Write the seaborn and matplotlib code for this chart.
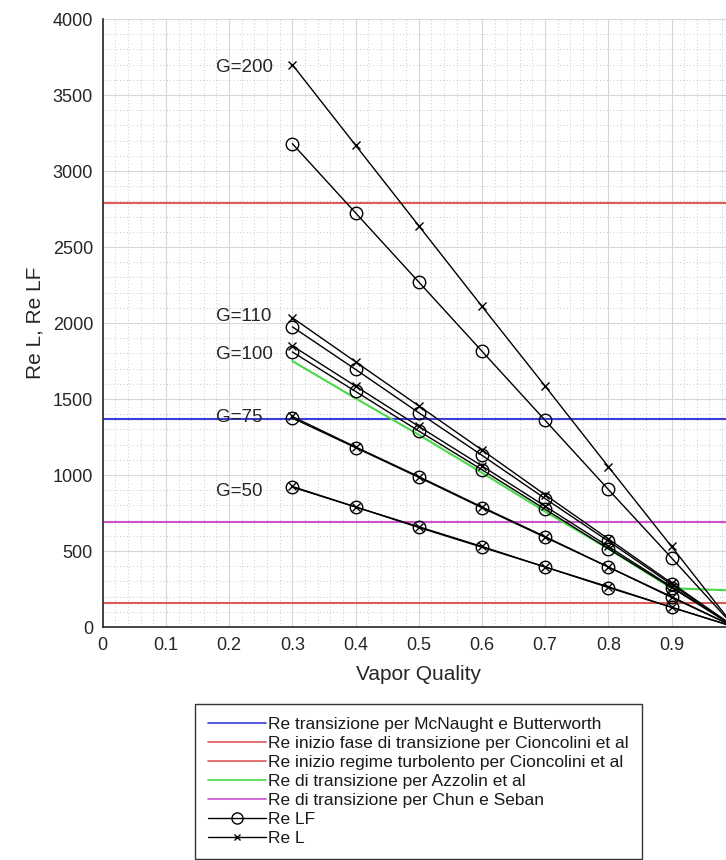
import numpy as np
import pandas as pd
import matplotlib
matplotlib.use("Agg")
import matplotlib.pyplot as plt
from matplotlib.lines import Line2D
from matplotlib.ticker import MultipleLocator
import seaborn as sns

# ---- data ----
vapor_quality = [0.3, 0.4, 0.5, 0.6, 0.7, 0.8, 0.9, 1.0]

G200_ReL  = [3700, 3170, 2640, 2110, 1585, 1055, 530, 0]
G200_ReLF = [3180, 2725, 2270, 1815, 1360, 905, 455, 0]
G110_ReL  = [2035, 1745, 1455, 1165, 870, 580, 290, 0]
G110_ReLF = [1975, 1695, 1410, 1130, 845, 565, 280, 0]
G100_ReL  = [1850, 1585, 1320, 1060, 795, 530, 265, 0]
G100_ReLF = [1810, 1550, 1290, 1035, 775, 515, 260, 0]
G75_ReL   = [1385, 1185, 990, 790, 595, 395, 200, 0]
G75_ReLF  = [1375, 1180, 985, 785, 590, 395, 195, 0]
G50_ReL   = [925, 790, 660, 530, 395, 265, 130, 0]
G50_ReLF  = [920, 790, 655, 525, 395, 260, 130, 0]

azzolin_Re = [1750, 1505, 1265, 1015, 760, 515, 255, 240]

Re_mcnaught = 1370
Re_cioncolini_transition = 160
Re_cioncolini_turbulent = 2790
Re_chun_seban = 690

G_labels = ["G=200", "G=110", "G=100", "G=75", "G=50"]
G_label_y = [3680, 2045, 1790, 1380, 890]
G_label_x = 0.18

legend_labels = [
    "Re transizione per McNaught e Butterworth",
    "Re inizio fase di transizione per Cioncolini et al",
    "Re inizio regime turbolento per Cioncolini et al",
    "Re di transizione per Azzolin et al",
    "Re di transizione per Chun e Seban",
    "Re LF",
    "Re L",
]

xticks = [0, 0.1, 0.2, 0.3, 0.4, 0.5, 0.6, 0.7, 0.8, 0.9, 1.0]
xticklabels = ["0", "0.1", "0.2", "0.3", "0.4", "0.5", "0.6", "0.7", "0.8", "0.9", ""]
yticks = [0, 500, 1000, 1500, 2000, 2500, 3000, 3500, 4000]

# ---- style ----
sns.set_theme(style="white")
plt.rcParams["font.family"] = ["Liberation Sans", "DejaVu Sans"]

c_blue = "#3c3cd8"
c_red = "#e05a5a"
c_green = "#4ad84a"
c_magenta = "#d052d0"

fig = plt.figure(figsize=(7.26, 8.6), dpi=100)
ax = fig.add_axes([0.1415, 0.2709, 0.8705, 0.707])

# horizontal reference lines
ax.axhline(Re_mcnaught, color=c_blue, lw=1.5, zorder=2)
ax.axhline(Re_cioncolini_transition, color=c_red, lw=1.5, zorder=2)
ax.axhline(Re_cioncolini_turbulent, color=c_red, lw=1.5, zorder=2)
ax.axhline(Re_chun_seban, color=c_magenta, lw=1.5, zorder=2)

# Azzolin
sns.lineplot(x=vapor_quality, y=azzolin_Re, color=c_green, lw=1.5, ax=ax, zorder=3)

series = [
    (G200_ReL, G200_ReLF),
    (G110_ReL, G110_ReLF),
    (G100_ReL, G100_ReLF),
    (G75_ReL, G75_ReLF),
    (G50_ReL, G50_ReLF),
]
for reL, reLF in series:
    sns.lineplot(x=vapor_quality, y=reLF, color="black", lw=1.0, marker="o",
                 markersize=9, markerfacecolor="none", markeredgecolor="black",
                 markeredgewidth=1.0, ax=ax, zorder=4)
    sns.lineplot(x=vapor_quality, y=reL, color="black", lw=1.0, marker="x",
                 markersize=6, markeredgecolor="black", markeredgewidth=1.0,
                 ax=ax, zorder=4)

for lab, yv in zip(G_labels, G_label_y):
    ax.text(G_label_x, yv, lab, fontsize=13.5, color="#262626",
            ha="left", va="center", zorder=5)

ax.set_xlim(0, 1)
ax.set_ylim(0, 4000)
ax.set_xticks(xticks)
ax.set_xticklabels(xticklabels)
ax.set_yticks(yticks)
ax.xaxis.set_minor_locator(MultipleLocator(0.02))
ax.yaxis.set_minor_locator(MultipleLocator(100))
ax.grid(which="major", color="#d6d6d6", lw=0.8, ls="-", zorder=0)
ax.grid(which="minor", color="#b8b8b8", lw=0.6, ls=(0, (1, 3)), zorder=0)
ax.set_axisbelow(True)

for s in ["top", "right"]:
    ax.spines[s].set_visible(False)
for s in ["left", "bottom"]:
    ax.spines[s].set_color("#262626")
    ax.spines[s].set_linewidth(1.2)

ax.tick_params(which="major", direction="in", length=5, width=1.0,
               color="#262626", labelsize=13, labelcolor="#262626")
ax.tick_params(axis="x", pad=7)
ax.tick_params(axis="y", pad=7)
ax.tick_params(which="minor", length=0)

ax.set_xlabel("Vapor Quality", fontsize=15, color="#262626", labelpad=8)
ax.set_ylabel("Re L, Re LF", fontsize=15, color="#262626", labelpad=6)

handles = [
    Line2D([], [], color=c_blue, lw=1.2),
    Line2D([], [], color=c_red, lw=1.2),
    Line2D([], [], color=c_red, lw=1.2),
    Line2D([], [], color=c_green, lw=1.2),
    Line2D([], [], color=c_magenta, lw=1.2),
    Line2D([], [], color="black", lw=1.0, marker="o", markersize=8,
           markerfacecolor="none", markeredgecolor="black"),
    Line2D([], [], color="black", lw=1.0, marker="x", markersize=5),
]
leg = ax.legend(handles, legend_labels, loc="upper center",
                bbox_to_anchor=(0.5, -0.1266), borderaxespad=0,
                fontsize=12.5, handlelength=3.3, handletextpad=0.15,
                labelspacing=0.22, borderpad=0.75, fancybox=False,
                framealpha=1, edgecolor="#333333")
leg.get_frame().set_linewidth(1.0)
for t in leg.get_texts():
    t.set_color("#1a1a1a")

fig.savefig("out.png", dpi=100)
